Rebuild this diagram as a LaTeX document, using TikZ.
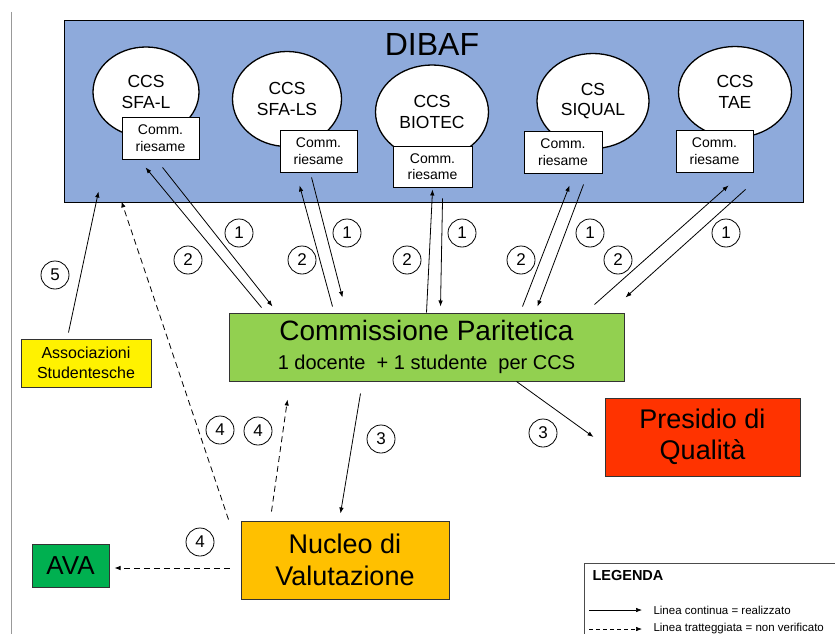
\documentclass[tikz,border=0pt]{standalone}
\usepackage{fontspec}
\setmainfont{Liberation Sans}
\usepackage{xcolor}
\usetikzlibrary{positioning,shapes.geometric,arrows.meta}

\definecolor{dibafblue}{RGB}{142,170,219}
\definecolor{cpgreen}{RGB}{146,208,80}
\definecolor{pqred}{RGB}{255,51,0}
\definecolor{nvorange}{RGB}{255,192,0}
\definecolor{avagreen}{RGB}{0,176,80}

\begin{document}
\begin{tikzpicture}[x=1pt, y=-1pt,
	ccs/.style={ellipse, draw, line width=1.3pt, fill=white, inner sep=0pt, align=center, font=\fontsize{17.5}{20.5}\selectfont},
	riesame/.style={rectangle, draw, line width=0.9pt, fill=white, inner sep=0pt, minimum width=77pt, minimum height=42pt, align=center, font=\fontsize{14}{16.5}\selectfont},
	ente/.style={rectangle, draw=black!80, line width=1pt, inner sep=0pt, align=center},
	num/.style={circle, draw, line width=0.8pt, inner sep=0pt, minimum size=28pt, font=\fontsize{17}{17}\selectfont},
	flow/.style={-{Latex[length=6pt,width=4.5pt]}, line width=0.8pt},
	nonver/.style={flow, dash pattern=on 6pt off 4pt}]
	\useasboundingbox (0,0) rectangle (835,634);
	\draw[black!40, line width=1pt] (11,12) -- (11,634);

	% DIBAF and its study courses
	\node[rectangle, draw, line width=1pt, fill=dibafblue, minimum width=739pt, minimum height=181pt] (dibaf) at (433.5,111.5) {};
	\node[font=\fontsize{32}{32}\selectfont] (dibaftitle) at (432,44) {DIBAF};

	\node[ccs, minimum width=106pt, minimum height=90pt] (sfal) at (146,92) {CCS\\SFA-L};
	\node[ccs, minimum width=109pt, minimum height=95pt] (sfals) at (287,99) {CCS\\SFA-LS};
	\node[ccs, minimum width=113pt, minimum height=94pt] (biotec) at (432,112) {CCS\\BIOTEC};
	\node[ccs, minimum width=112pt, minimum height=95pt] (siqual) at (593,101) {CS\\SIQUAL};
	\node[ccs, minimum width=113pt, minimum height=91pt] (tae) at (735,92) {CCS\\TAE};

	\node[riesame] (r1) at (160.5,138) {Comm.\\riesame};
	\node[riesame] (r2) at (318.5,151) {Comm.\\riesame};
	\node[riesame, minimum width=79pt, minimum height=41pt] (r3) at (432.5,166.5) {Comm.\\riesame};
	\node[riesame, minimum width=78pt] (r4) at (563,152) {Comm.\\riesame};
	\node[riesame] (r5) at (714.5,151) {Comm.\\riesame};

	% the other bodies
	\node[ente, fill=cpgreen, minimum width=395pt, minimum height=68pt, font=\fontsize{20}{29}\selectfont] (cp) at (426.5,347)
		{{\fontsize{28}{29}\selectfont Commissione Paritetica}\\1 docente \ + 1 studente \ per CCS};
	\node[ente, fill=yellow, minimum width=130pt, minimum height=48pt, font=\fontsize{16}{20}\selectfont] (as) at (86,363) {Associazioni\\Studentesche};
	\node[ente, fill=pqred, minimum width=195pt, minimum height=78pt, font=\fontsize{27}{31}\selectfont] (pq) at (702.5,437) {Presidio di\\Qualità};
	\node[ente, fill=nvorange, minimum width=208pt, minimum height=78pt, font=\fontsize{27}{32}\selectfont] (nv) at (345,560) {Nucleo di\\Valutazione};
	\node[ente, fill=avagreen, minimum width=77pt, minimum height=43pt, font=\fontsize{26}{26}\selectfont] (ava) at (70.5,565.5) {AVA};

	% flows CCS <-> Commissione Paritetica
	\draw[flow] ([xshift=33pt,yshift=5pt]cp.north west) -- ([xshift=24pt,yshift=-8pt]r1.south west);
	\draw[flow] ([xshift=41pt,yshift=-8pt]r1.south west) -- ([xshift=44pt,yshift=6pt]cp.north west);
	\draw[flow] ([xshift=104pt,yshift=6pt]cp.north west) -- ([xshift=20pt,yshift=-13pt]r2.south west);
	\draw[flow] ([xshift=32pt,yshift=-5pt]r2.south west) -- ([xshift=114pt,yshift=15pt]cp.north west);
	\draw[flow] ([xshift=198pt,yshift=0pt]cp.north west) -- ([xshift=40pt,yshift=-2pt]r3.south west);
	\draw[flow] ([xshift=50pt,yshift=-11pt]r3.south west) -- ([xshift=212pt,yshift=6pt]cp.north west);
	\draw[flow] ([xshift=294pt,yshift=6pt]cp.north west) -- ([xshift=46pt,yshift=-12pt]r4.south west);
	\draw[flow] ([xshift=60pt,yshift=-11pt]r4.south west) -- ([xshift=309pt,yshift=6pt]cp.north west);
	\draw[flow] ([xshift=366pt,yshift=8pt]cp.north west) -- ([xshift=53pt,yshift=-13pt]r5.south west);
	\draw[flow] ([xshift=70pt,yshift=-17pt]r5.south west) -- ([xshift=1pt,yshift=15pt]cp.north east);

	% other flows
	\draw[flow] ([xshift=48pt,yshift=6pt]as.north west) -- ([xshift=35pt,yshift=11pt]dibaf.south west);
	\draw[nonver] ([xshift=-12pt,yshift=1pt]nv.north west) -- ([xshift=58pt,yshift=1pt]dibaf.south west);
	\draw[nonver] ([xshift=31pt,yshift=9pt]nv.north west) -- ([xshift=59pt,yshift=-18pt]cp.south west);
	\draw[flow] ([xshift=132pt,yshift=-12pt]cp.south west) -- ([xshift=100pt,yshift=7pt]nv.north west);
	\draw[flow] ([xshift=288pt,yshift=0pt]cp.south west) -- ([xshift=-11pt]pq.west);
	\draw[nonver] ([xshift=-11pt,yshift=-8pt]nv.west) -- ([xshift=5pt,yshift=-2.5pt]ava.east);

	% step numbers
	\node[num] (n1a) at (239,233) {1};
	\node[num] (n2a) at (188,260) {2};
	\node[num] (n2b) at (302,260) {2};
	\node[num] (n1b) at (347,233) {1};
	\node[num] (n2c) at (407,260) {2};
	\node[num] (n1c) at (462,233) {1};
	\node[num] (n2d) at (521,260) {2};
	\node[num] (n1d) at (590,233) {1};
	\node[num] (n2e) at (618,260) {2};
	\node[num] (n1e) at (726,233) {1};
	\node[num] (n5) at (55,275) {5};
	\node[num] (n4a) at (220,430) {4};
	\node[num] (n4b) at (258,431) {4};
	\node[num] (n3a) at (381,439) {3};
	\node[num] (n3b) at (543,433) {3};
	\node[num] (n4c) at (200,542) {4};

	% legend
	\node[rectangle, draw=black!70, line width=0.8pt, minimum width=251pt, minimum height=80pt, anchor=north west] (legenda) at (583.5,563) {};
	\node[anchor=west, font=\fontsize{14.5}{15}\selectfont\bfseries] (legtitle) at (589,576) {LEGENDA};
	\coordinate (cont1) at (589,610);
	\coordinate (cont2) at (642,610);
	\coordinate (tratt1) at (589,629);
	\coordinate (tratt2) at (642,629);
	\draw[flow, line width=0.6pt] (cont1) -- (cont2);
	\draw[flow, line width=0.6pt, dash pattern=on 4pt off 3pt] (tratt1) -- (tratt2);
	\node[anchor=west, font=\fontsize{11.5}{12}\selectfont] (legcont) at (650,610) {Linea continua = realizzato};
	\node[anchor=west, font=\fontsize{11.5}{12}\selectfont] (legtratt) at (650,629) {Linea tratteggiata = non verificato};
\end{tikzpicture}
\end{document}
